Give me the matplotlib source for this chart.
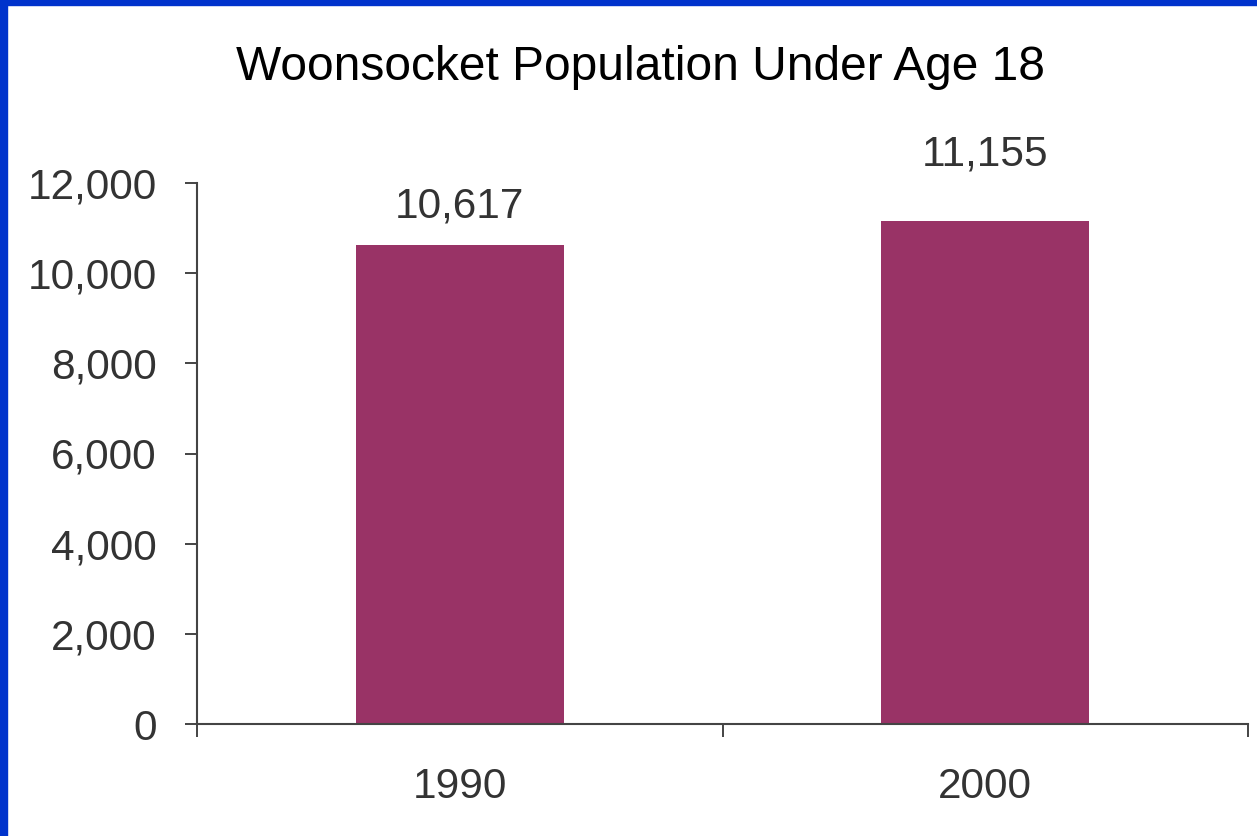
import matplotlib
matplotlib.use('Agg')
import matplotlib.pyplot as plt
from matplotlib.ticker import FuncFormatter

years = ['1990', '2000']
population = [10617, 11155]
yticks = [0, 2000, 4000, 6000, 8000, 10000, 12000]

# label gap above each bar, in points
label_offsets = [20, 40]

plt.rcParams['font.family'] = ['Liberation Sans', 'DejaVu Sans']

fig = plt.figure(figsize=(12.57, 8.36), dpi=100)
fig.patch.set_facecolor('white')

# blue frame on top and left edges
fig.patches.append(plt.Rectangle((0, 0), 7 / 1257, 1, transform=fig.transFigure,
                                 color='#0033CC', zorder=0))
fig.patches.append(plt.Rectangle((0, 1 - 5 / 836), 1, 5 / 836, transform=fig.transFigure,
                                 color='#0033CC', zorder=0))

ax = fig.add_axes([197 / 1257, 112 / 836, (1248 - 197) / 1257, (724 - 183) / 836])
x = range(len(years))
ax.bar(x, population, width=0.395, color='#993366', zorder=2)

for xi, v, off in zip(x, population, label_offsets):
    ax.annotate('{:,}'.format(v), (xi, v), xytext=(0, off), textcoords='offset points',
                ha='center', va='baseline', fontsize=30.5, color='#333333')

ax.set_xlim(-0.5, 1.5)
ax.set_ylim(0, 12000)
ax.set_yticks(yticks)
ax.yaxis.set_major_formatter(FuncFormatter(lambda v, p: '{:,}'.format(int(v))))
ax.set_xticks([-0.5, 0.5, 1.5], minor=False)
ax.set_xticklabels([])
ax.set_xticks(list(x), minor=True)
ax.set_xticklabels(years, minor=True)
ax.tick_params(axis='x', which='minor', length=0, pad=31, labelsize=30.5, labelcolor='#333333')
ax.tick_params(axis='x', which='major', length=9, width=1.4, color='#444444', direction='out')
ax.tick_params(axis='y', length=9, width=1.4, color='#444444', labelsize=30.5,
               labelcolor='#333333', pad=20)

for s in ['top', 'right']:
    ax.spines[s].set_visible(False)
for s in ['left', 'bottom']:
    ax.spines[s].set_color('#444444')
    ax.spines[s].set_linewidth(1.5)

fig.text(641 / 1257, 1 - 67 / 836, 'Woonsocket Population Under Age 18',
         ha='center', va='center', fontsize=34.5, color='black')

fig.savefig('out.png', dpi=100, facecolor='white')
